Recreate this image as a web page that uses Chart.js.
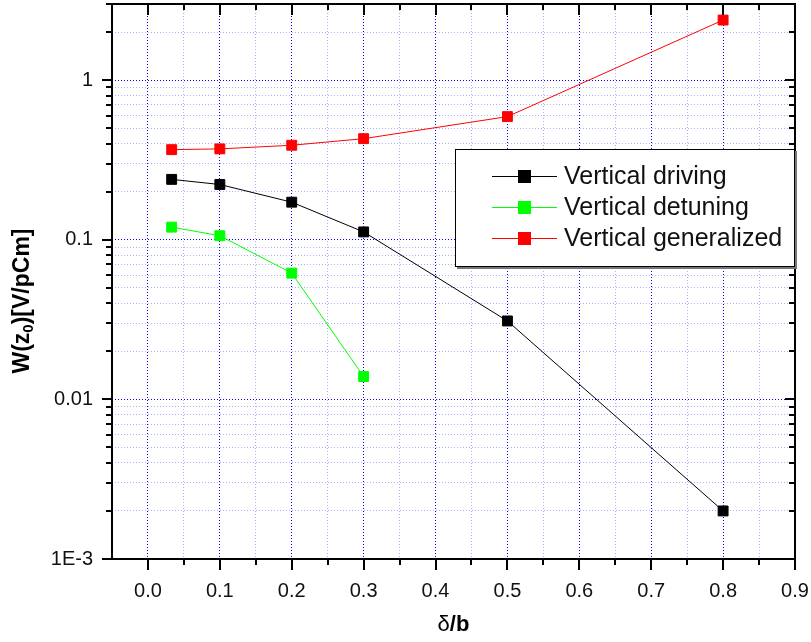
<!DOCTYPE html>
<html lang="en">
<head>
<meta charset="UTF-8">
<title>Vertical wake vs delta/b</title>
<script src="https://cdn.jsdelivr.net/npm/chart.js"></script>
<style>
  html, body { margin: 0; padding: 0; background: #fff; }
  canvas { display: block; }
</style>
</head>
<body>
<canvas id="wakeChart" width="811" height="642"></canvas>
<script>
// values (x = delta/b, y = W(z0) in V/pCm)
const xDriving = [0.033, 0.1, 0.2, 0.3, 0.5, 0.8];
const driving = [0.239, 0.222, 0.172, 0.112, 0.031, 0.002];
const xDetuning = [0.033, 0.1, 0.2, 0.3];
const detuning = [0.120, 0.106, 0.0618, 0.0139];
const xGeneralized = [0.033, 0.1, 0.2, 0.3, 0.5, 0.8];
const generalized = [0.367, 0.371, 0.391, 0.430, 0.591, 2.38];

const seriesNames = ['Vertical driving', 'Vertical detuning', 'Vertical generalized'];
const seriesColors = ['#000000', '#00ff00', '#ff0000'];

// axis ticks
const xTickValues = [0, 0.1, 0.2, 0.3, 0.4, 0.5, 0.6, 0.7, 0.8, 0.9];
const xTickLabels = ['0.0', '0.1', '0.2', '0.3', '0.4', '0.5', '0.6', '0.7', '0.8', '0.9'];
const xMinorValues = [0.05, 0.15, 0.25, 0.35, 0.45, 0.55, 0.65, 0.75, 0.85];
const yTickValues = [0.001, 0.01, 0.1, 1];
const yTickLabels = ['1E-3', '0.01', '0.1', '1'];
const yMinorSteps = [2, 3, 4, 5, 6, 7, 8, 9];

const X_MIN = -0.05, X_MAX = 0.9;
const Y_MIN = 0.001, Y_MAX = 3;

const FONT = 'Liberation Sans, Arial, sans-serif';

const near = (a, b) => Math.abs(a - b) < 1e-9 * Math.max(1, Math.abs(b));
const xLabel = v => { const i = xTickValues.findIndex(t => Math.abs(t - v) < 1e-6); return i < 0 ? '' : xTickLabels[i]; };
const yLabel = v => { const i = yTickValues.findIndex(t => near(t, v)); return i < 0 ? '' : yTickLabels[i]; };
const isMajorX = v => xLabel(v) !== '';
const isMajorY = v => yLabel(v) !== '';

const yMinorValues = [];
yTickValues.forEach(d => yMinorSteps.forEach(k => { if (d * k <= Y_MAX * 1.0001) yMinorValues.push(d * k); }));

const toPoints = (xs, ys) => xs.map((x, i) => ({ x: x, y: ys[i] }));

const gridColor = major => major ? 'rgba(0, 0, 255, 1)' : 'rgba(120, 120, 255, 0.6)';

// frame, ticks, axis titles and the boxed legend
const framePlugin = {
  id: 'frame',
  afterDatasetsDraw(chart) {
    const { ctx, chartArea: a, scales: { x, y } } = chart;
    ctx.save();
    ctx.strokeStyle = '#000';
    ctx.lineWidth = 2;
    ctx.lineCap = 'butt';
    const seg = (x1, y1, x2, y2) => { ctx.beginPath(); ctx.moveTo(x1, y1); ctx.lineTo(x2, y2); ctx.stroke(); };
    ctx.strokeRect(a.left, a.top, a.right - a.left, a.bottom - a.top);
    x.ticks.forEach(t => {
      const px = Math.round(x.getPixelForValue(t.value));
      const len = isMajorX(t.value) ? 11 : 6;
      seg(px, a.bottom, px, a.bottom + len);
      seg(px, a.top, px, a.top + len);
    });
    y.ticks.forEach(t => {
      const py = Math.round(y.getPixelForValue(t.value));
      const len = isMajorY(t.value) ? 10 : 6;
      seg(a.left - len, py, a.left, py);
      seg(a.right - len, py, a.right, py);
    });
    ctx.restore();
  },
  afterDraw(chart) {
    const { ctx, chartArea: a } = chart;
    ctx.save();
    ctx.fillStyle = '#000';
    ctx.textBaseline = 'middle';

    // x title: δ/b
    ctx.font = '22px ' + FONT;
    const wd = ctx.measureText('δ').width;
    ctx.font = 'bold 22px ' + FONT;
    const wb = ctx.measureText('/b').width;
    const cx = (a.left + a.right) / 2;
    let tx = cx - (wd + wb) / 2;
    ctx.textAlign = 'left';
    ctx.font = '22px ' + FONT;
    ctx.fillText('δ', tx, 625);
    ctx.font = 'bold 22px ' + FONT;
    ctx.fillText('/b', tx + wd, 625);

    // y title: W(z0)[V/pCm], rotated
    ctx.translate(23, 301);
    ctx.rotate(-Math.PI / 2);
    const parts = [['W(z', 'bold 23px ', 0], ['0', 'bold 15px ', 6], [')[V/pCm]', 'bold 23px ', 0]];
    let total = 0;
    parts.forEach(p => { ctx.font = p[1] + FONT; total += ctx.measureText(p[0]).width; });
    let px = -total / 2;
    parts.forEach(p => {
      ctx.font = p[1] + FONT;
      ctx.fillText(p[0], px, p[2]);
      px += ctx.measureText(p[0]).width;
    });
    ctx.setTransform(1, 0, 0, 1, 0, 0);

    // legend box
    const bx = 455, by = 149, bw = a.right - 455, bh = 118;
    ctx.fillStyle = '#777';
    ctx.fillRect(bx + 2, by + 2, bw, bh);
    ctx.fillStyle = '#fff';
    ctx.fillRect(bx, by, bw, bh);
    ctx.strokeStyle = '#000';
    ctx.lineWidth = 1;
    ctx.strokeRect(bx + 0.5, by + 0.5, bw - 1, bh - 1);
    ctx.font = '25px ' + FONT;
    ctx.textAlign = 'left';
    chart.data.datasets.forEach((ds, i) => {
      const ry = 176 + i * 31;
      ctx.strokeStyle = ds.borderColor;
      ctx.lineWidth = 1;
      ctx.beginPath();
      ctx.moveTo(492, ry + 0.5);
      ctx.lineTo(557, ry + 0.5);
      ctx.stroke();
      ctx.fillStyle = ds.backgroundColor;
      ctx.fillRect(518, ry - 6, 13, 13);
      ctx.fillStyle = '#111';
      ctx.fillText(ds.label, 564, ry + 1);
    });
    ctx.restore();
  }
};

const makeDataset = (i, xs, ys) => ({
  label: seriesNames[i],
  data: toPoints(xs, ys),
  borderColor: seriesColors[i],
  backgroundColor: seriesColors[i],
  borderWidth: 1,
  pointStyle: 'rect',
  pointRadius: 7,
  pointBorderWidth: 1,
  pointHoverRadius: 7,
  tension: 0,
  showLine: true
});

new Chart(document.getElementById('wakeChart').getContext('2d'), {
  type: 'scatter',
  data: {
    datasets: [
      makeDataset(0, xDriving, driving),
      makeDataset(1, xDetuning, detuning),
      makeDataset(2, xGeneralized, generalized)
    ]
  },
  options: {
    responsive: false,
    animation: false,
    devicePixelRatio: 1,
    layout: { autoPadding: false, padding: { top: 4, right: 16, left: 0, bottom: 0 } },
    plugins: { legend: { display: false }, tooltip: { enabled: false } },
    scales: {
      x: {
        type: 'linear',
        min: X_MIN,
        max: X_MAX,
        bounds: 'data',
        afterBuildTicks: s => {
          s.ticks = xTickValues.concat(xMinorValues).sort((p, q) => p - q).map(v => ({ value: v }));
        },
        afterFit: s => { s.height = 83; s.paddingLeft = 0; s.paddingRight = 0; },
        ticks: {
          autoSkip: false,
          maxRotation: 0,
          padding: 20,
          color: '#111',
          font: { family: FONT, size: 20 },
          callback: v => xLabel(v)
        },
        grid: {
          drawTicks: false,
          lineWidth: 1,
          color: c => gridColor(c.tick && isMajorX(c.tick.value))
        },
        border: { display: false, dash: [1, 2] }
      },
      y: {
        type: 'logarithmic',
        min: Y_MIN,
        max: Y_MAX,
        afterBuildTicks: s => {
          s.ticks = yTickValues.concat(yMinorValues).sort((p, q) => p - q).map(v => ({ value: v }));
        },
        afterFit: s => { s.width = 112; s.paddingTop = 0; s.paddingBottom = 0; },
        ticks: {
          autoSkip: false,
          padding: 19,
          color: '#111',
          font: { family: FONT, size: 20 },
          callback: v => yLabel(v)
        },
        grid: {
          drawTicks: false,
          lineWidth: 1,
          color: c => gridColor(c.tick && isMajorY(c.tick.value))
        },
        border: { display: false, dash: [1, 2] }
      }
    }
  },
  plugins: [framePlugin]
});
</script>
</body>
</html>
